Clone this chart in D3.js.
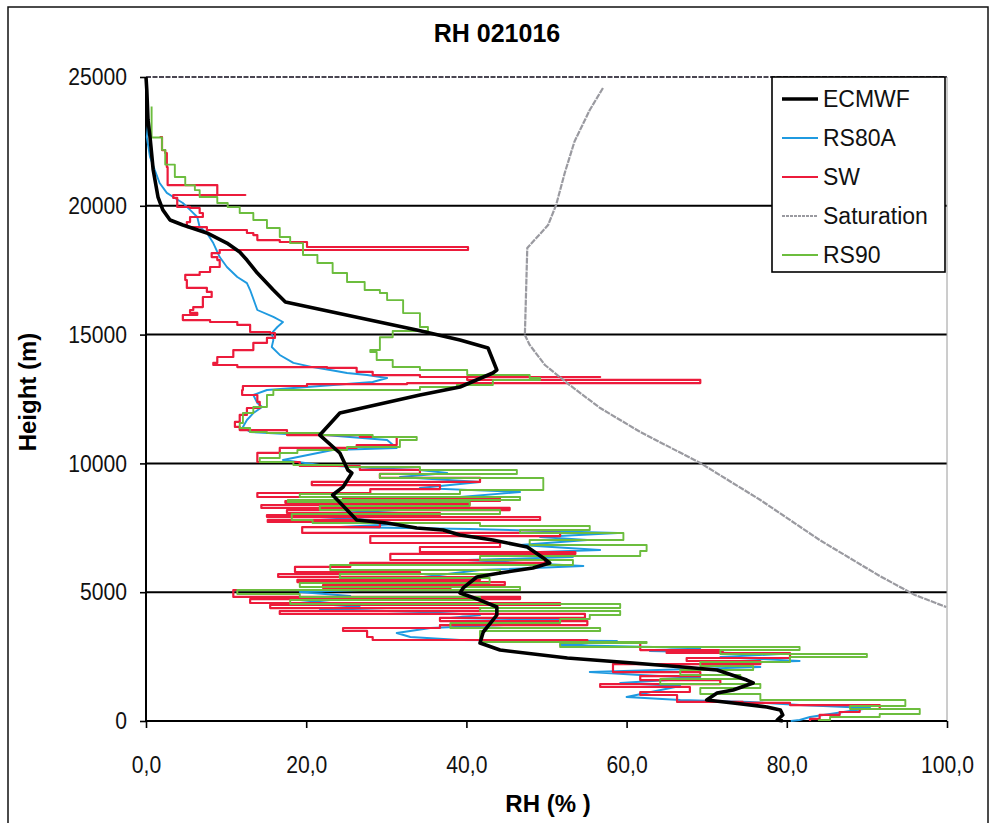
<!DOCTYPE html>
<html><head><meta charset="utf-8">
<script src="https://cdn.jsdelivr.net/npm/d3@7"></script>
<style>body{margin:0;background:#fff}svg{display:block}</style>
</head><body>
<svg id="chart" width="990" height="823"></svg>
<script>
// Relative humidity profiles, sounding 021016
const chartTitle = "RH 021016";
const xLabel = "RH (% )";
const yLabel = "Height (m)";
const xTicks = [0, 20, 40, 60, 80, 100];
const yTicks = [0, 5000, 10000, 15000, 20000, 25000];
const seriesNames = ["ECMWF", "RS80A", "SW", "Saturation", "RS90"];

// each point: [RH %, height m]
const ecmwf = [[0,25000],[0.1,24495],[0.25,23330],[0.5,22670],[0.9,21390],[1.5,20340],[2.1,19840],[3.0,19450],[4.6,19255],[7.6,18945],[10.1,18555],[11.7,18205],[12.6,17895],[13.9,17390],[15.9,16730],[17.4,16265],[33.8,15180],[39.2,14790],[42.7,14480],[43.8,13625],[43.3,13510],[39.2,12965],[34.2,12655],[24.2,11955],[21.7,11100],[24.2,10405],[25.2,9745],[25.7,9630],[24.6,9085],[23.3,8775],[26.3,7805],[30.1,7685],[33.8,7490],[37.1,7415],[39.2,7220],[43.3,7025],[47.6,6755],[49.6,6330],[50.4,6135],[48.3,5940],[44.2,5745],[41.3,5590],[39.6,5165],[39.2,4970],[41.7,4695],[43.8,4425],[43.8,4115],[43.3,3920],[42.1,3455],[41.7,3030],[44.2,2755],[52.6,2445],[60.8,2250],[67.0,2095],[71.3,1980],[75.0,1590],[75.8,1475],[73.3,1205],[71.3,1085],[70.0,815],[73.3,700],[77.5,545],[79.2,425],[79.5,235],[78.8,40],[79.5,0]];

const rs80a = [[0.3,23300],[0.1,22670],[0.5,21895],[1.1,21390],[1.7,20885],[2.6,20500],[3.4,20340],[4.6,20110],[5.5,19840],[6.4,19565],[6.7,19175],[7.6,18945],[8.4,18555],[9.2,18010],[10.1,17625],[11.4,17235],[12.6,17000],[13.0,16730],[13.9,15955],[15.9,15685],[17.1,15490],[16.4,15295],[15.7,15060],[15.9,14790],[15.7,14520],[16.7,14210],[18.4,13900],[20.8,13740],[23.0,13625],[25.1,13510],[27.6,13430],[30.1,13315],[28.3,13160],[20.1,12965],[15.1,12850],[13.4,12655],[13.9,12345],[14.5,12190],[13.4,11955],[12.6,11685],[12.1,11415],[13.0,11220],[17.6,11140],[20.8,11140],[30.1,10910],[31.3,10600],[23.3,10520],[17.1,10130],[21.7,9940],[29.2,9800],[34.2,9745],[37.6,9630],[31.7,9470],[41.7,9280],[34.2,9045],[46.7,8890],[39.2,8695],[29.2,8580],[36.7,8465],[25.5,8270],[23.8,8190],[34.2,8035],[21.7,7805],[31.7,7650],[24.2,7530],[40.4,7455],[58.9,7300],[49.2,7145],[55.1,7025],[46.7,6830],[56.7,6640],[45.4,6520],[53.3,6365],[40.1,6250],[54.6,6015],[41.7,5860],[34.6,5590],[31.7,5475],[26.7,5280],[34.2,5165],[19.2,5010],[25.5,4850],[19.2,4695],[23.0,4580],[26.7,4465],[21.7,4350],[34.2,4230],[41.7,4115],[38.0,4000],[51.7,3920],[47.9,3765],[35.5,3610],[31.3,3415],[33.0,3260],[39.2,3145],[58.8,3105],[51.7,2950],[69.2,2835],[62.9,2715],[79.2,2600],[71.7,2485],[81.6,2330],[69.2,2210],[76.7,2095],[55.4,1900],[61.7,1785],[69.2,1670],[59.2,1475],[66.7,1360],[60.0,930],[66.7,815],[75.4,740],[81.6,620],[90.4,505],[87.9,390],[85.4,270],[82.9,155],[81.6,40],[80.5,0]];

const sw = [[1.7,22670],[2.0,22165],[2.4,22050],[2.6,21505],[2.7,20805],[8.0,20805],[8.9,20420],[12.4,20420],[3.4,20305],[3.9,19955],[5.5,19915],[6.7,19720],[7.1,19565],[5.5,19370],[5.1,19175],[7.6,19060],[12.6,18945],[13.4,18865],[13.9,18670],[16.7,18595],[20.1,18400],[40.2,18360],[40.2,18285],[9.2,18165],[8.2,18010],[8.9,17895],[9.2,17625],[8.0,17430],[6.7,17315],[4.9,17120],[5.1,16810],[7.6,16655],[8.2,16460],[7.1,16070],[5.9,15955],[5.5,15840],[6.4,15760],[4.6,15565],[8.0,15490],[11.4,15375],[13.0,15100],[15.5,15060],[16.1,14870],[15.1,14675],[13.4,14400],[10.9,14130],[8.9,13900],[8.4,13820],[11.4,13740],[22.6,13705],[26.3,13550],[28.3,13430],[34.2,13355],[56.7,13355],[40.1,13240],[69.2,13120],[32.6,13080],[20.1,13005],[12.1,12850],[12.0,12655],[13.9,12385],[14.2,12150],[12.6,11880],[11.7,11610],[11.1,11415],[11.7,11295],[17.6,11100],[26.7,11025],[31.3,10715],[26.3,10600],[16.7,10405],[13.9,10055],[19.2,9900],[26.7,9745],[34.2,9590],[29.2,9435],[41.7,9280],[20.7,9160],[36.7,9005],[28.0,8850],[13.9,8695],[24.6,8620],[44.2,8540],[17.4,8465],[40.4,8385],[14.4,8270],[45.4,8190],[17.6,8075],[36.7,7995],[15.1,7920],[49.2,7805],[15.2,7725],[29.2,7530],[19.5,7300],[51.7,7180],[28.0,6910],[44.2,6755],[34.2,6560],[53.6,6485],[30.5,6250],[49.8,6135],[25.5,5980],[18.6,5785],[34.2,5705],[16.5,5590],[41.7,5475],[18.9,5395],[44.8,5280],[22.1,5165],[38.0,5085],[10.9,4815],[46.7,4735],[13.0,4580],[51.7,4505],[15.5,4385],[41.7,4270],[16.7,4155],[54.8,4000],[36.7,3880],[55.1,3725],[36.7,3610],[24.6,3495],[27.6,3260],[28.3,3145],[55.1,3030],[61.7,2755],[72.0,2680],[65.0,2640],[80.4,2445],[67.5,2330],[76.7,2210],[58.3,1900],[69.2,1745],[61.7,1590],[71.7,1435],[56.7,1320],[67.9,1125],[61.7,1010],[66.3,740],[74.5,700],[80.4,620],[91.6,465],[89.1,350],[86.6,235],[84.1,80],[82.9,0]];

const saturation = [[57.05,24573],[55.4,23720],[53.5,22500],[52.3,21300],[51.2,20030],[50.2,19255],[47.6,18360],[47.3,14985],[47.9,14600],[49.8,13820],[52.9,13040],[56.7,12150],[61.7,11220],[69.2,10015],[76.7,8580],[84.1,7025],[91.6,5630],[96.0,4890],[99.9,4425]];

const rs90 = [[0.7,23850],[0.7,22650],[2.0,22630],[2.0,22170],[2.4,21600],[3.6,21580],[3.6,21120],[4.9,21100],[4.9,20800],[6.1,20610],[6.7,20340],[8.9,20110],[10.2,19950],[11.7,19720],[13.4,19450],[15.1,19140],[16.7,18790],[18.0,18550],[19.6,18090],[21.4,17780],[23.3,17390],[25.1,17040],[27.3,16730],[29.2,16615],[30.1,16340],[32.1,15835],[34.2,15295],[35.2,15140],[30.8,14900],[29.2,14400],[28.0,14325],[28.8,14015],[30.8,13740],[34.2,13625],[40.1,13430],[47.9,13315],[49.2,13240],[43.3,13045],[38.8,12965],[34.2,12850],[19.2,12850],[15.9,12655],[15.1,12190],[13.4,11955],[12.1,11570],[11.7,11375],[13.0,11220],[15.1,11180],[21.7,11100],[28.3,11025],[33.8,10910],[31.7,10635],[25.1,10520],[18.9,10405],[16.7,10210],[14.2,10055],[18.4,9940],[25.1,9860],[34.2,9745],[46.3,9590],[29.2,9435],[49.6,8965],[39.2,8810],[19.2,8695],[46.7,8580],[17.7,8500],[40.4,8345],[21.7,8190],[44.2,8035],[18.2,7805],[20.8,7685],[41.7,7570],[55.4,7415],[46.7,7300],[59.6,7025],[47.9,6830],[62.5,6600],[61.7,6405],[41.7,6250],[53.3,6055],[23.0,5860],[44.2,5705],[24.2,5550],[42.9,5355],[19.2,5200],[46.7,5085],[11.4,4930],[19.2,4815],[41.7,4695],[18.0,4540],[59.2,4385],[41.7,4270],[59.2,4115],[55.4,3960],[51.7,3805],[38.0,3610],[56.7,3495],[41.7,3065],[62.5,3030],[51.7,2875],[81.6,2755],[71.7,2600],[90.0,2485],[80.4,2290],[69.2,2135],[75.8,1980],[66.7,1785],[74.2,1630],[64.2,1435],[76.7,1280],[69.2,1050],[76.7,815],[94.8,580],[87.9,465],[96.6,270],[91.6,155],[85.4,40],[84.0,0]];

const colors = {ECMWF:"#000000", RS80A:"#1f9ae0", SW:"#ec1b3b", Saturation:"#9a9aa0", RS90:"#6cbd3e"};
const widths = {ECMWF:3.6, RS80A:1.9, SW:2.2, Saturation:2.2, RS90:1.9};

const svg = d3.select("#chart");
const x = d3.scaleLinear().domain([0, 100]).range([146, 947]);
const y = d3.scaleLinear().domain([0, 25000]).range([721, 77]);
const font = "'Liberation Sans', Arial, sans-serif";

// outer frame
svg.append("rect").attr("x", 8).attr("y", 7).attr("width", 980).attr("height", 820)
  .attr("fill", "#fff").attr("stroke", "#111").attr("stroke-width", 1.5);

// title
svg.append("text").attr("x", 497).attr("y", 42).attr("text-anchor", "middle")
  .attr("font-family", font).attr("font-weight", "bold").attr("font-size", 25)
  .text(chartTitle);

// gridlines
const grid = svg.append("g");
grid.selectAll("line").data(yTicks.filter(d => d > 0 && d < 25000)).join("line")
  .attr("x1", x(0)).attr("x2", x(100)).attr("y1", d => y(d)).attr("y2", d => y(d))
  .attr("stroke", "#000").attr("stroke-width", 2);
grid.append("line").attr("x1", x(0)).attr("x2", x(100)).attr("y1", y(25000)).attr("y2", y(25000))
  .attr("stroke", "#4a4652").attr("stroke-width", 1.8).attr("stroke-dasharray", "5,1.5");
grid.append("line").attr("x1", x(100)).attr("x2", x(100)).attr("y1", y(25000)).attr("y2", y(0))
  .attr("stroke", "#9a9a9a").attr("stroke-width", 1);

// axes
const fmt = d => d3.format(".1f")(d).replace(".", ",");
const xAxis = svg.append("g").attr("transform", `translate(0,${y(0)})`)
  .call(d3.axisBottom(x).tickValues(xTicks).tickFormat(fmt).tickSize(7).tickPadding(28));
const yAxis = svg.append("g").attr("transform", `translate(${x(0)},0)`)
  .call(d3.axisLeft(y).tickValues(yTicks).tickFormat(d3.format("d")).tickSize(6).tickPadding(18));
[xAxis, yAxis].forEach(g => {
  g.select(".domain").attr("stroke", "#000").attr("stroke-width", 2);
  g.selectAll(".tick line").attr("stroke", "#000").attr("stroke-width", 1.6);
  g.selectAll(".tick text").attr("font-family", font).attr("font-size", 24).attr("fill", "#111");
});
xAxis.select(".domain").attr("d", `M${x(0)},0H${x(100)}`);
yAxis.select(".domain").attr("d", `M0,${y(0)}V${y(25000)}`);
// narrower digits
xAxis.selectAll(".tick text").each(function () {
  const t = d3.select(this);
  t.attr("transform", `translate(0,${+t.attr("y")}) scale(0.88,1)`).attr("y", 0).attr("dy", "0.71em");
});
yAxis.selectAll(".tick text").each(function () {
  const t = d3.select(this);
  t.attr("transform", `translate(${+t.attr("x") + 5},0) scale(0.88,1)`).attr("x", 0);
});

// axis titles
svg.append("text").attr("x", 548).attr("y", 812).attr("text-anchor", "middle")
  .attr("font-family", font).attr("font-weight", "bold").attr("font-size", 24).text(xLabel);
svg.append("text").attr("transform", "translate(36,392) rotate(-90)").attr("text-anchor", "middle")
  .attr("font-family", font).attr("font-weight", "bold").attr("font-size", 24).text(yLabel);

// profiles: sonde series as height-stepped traces, model and saturation as straight segments
const line = d3.line().x(d => x(d[0])).y(d => y(d[1]));
const stepLine = d3.line().x(d => x(d[0])).y(d => y(d[1])).curve(d3.curveStepAfter);
const plot = svg.append("g").attr("fill", "none").attr("stroke-linejoin", "round");
const drawOrder = [["RS80A", rs80a, line], ["SW", sw, stepLine], ["RS90", rs90, stepLine], ["Saturation", saturation, line], ["ECMWF", ecmwf, line]];
drawOrder.forEach(([name, data, gen]) => {
  plot.append("path").datum(data).attr("d", gen)
    .attr("stroke", colors[name]).attr("stroke-width", widths[name])
    .attr("stroke-dasharray", name === "Saturation" ? "6,1" : null);
});

// legend
const lg = svg.append("g").attr("transform", "translate(772,77)");
lg.append("rect").attr("width", 173).attr("height", 195).attr("fill", "#fff")
  .attr("stroke", "#000").attr("stroke-width", 1.6);
seriesNames.forEach((name, i) => {
  const yy = 22 + i * 39;
  lg.append("line").attr("x1", 10).attr("x2", 46).attr("y1", yy).attr("y2", yy)
    .attr("stroke", colors[name]).attr("stroke-width", widths[name])
    .attr("stroke-dasharray", name === "Saturation" ? "3,1" : null);
  lg.append("text").attr("x", 51).attr("y", yy).attr("dy", "0.36em")
    .attr("font-family", font).attr("font-size", 23).attr("fill", "#111").text(name);
});
</script>
</body></html>
